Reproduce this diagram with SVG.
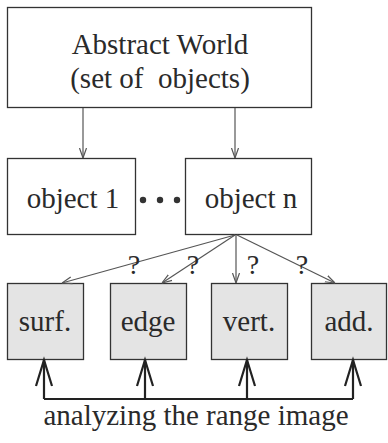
<svg xmlns="http://www.w3.org/2000/svg" width="388" height="443" viewBox="0 0 388 443">
<style>
.box{fill:#fff;stroke:#333;stroke-width:1.3}
.gbox{fill:#e4e4e4;stroke:#333;stroke-width:1.3}
.t{font-size:29px}
.q{font-size:28px}
.thin{stroke:#555;stroke-width:1.2;fill:none}
.bus{stroke:#222;stroke-width:2.2;fill:none}
</style>
<defs>
<marker id="ah" viewBox="0 0 10 10" refX="10" refY="5" markerWidth="10" markerHeight="10" markerUnits="userSpaceOnUse" orient="auto">
<path d="M0,1.5 L10,5 L0,8.5" fill="none" stroke="#555" stroke-width="1.2"/>
</marker>
</defs>
<g font-family="Liberation Serif, DejaVu Serif, serif" fill="#2a2a2a" text-anchor="middle">
<g id="world"><rect class="box" x="7.5" y="7.5" width="304" height="100"/>
<text class="t" x="160" y="54">Abstract World</text>
<text class="t" x="160" y="88" xml:space="preserve">(set of  objects)</text></g>
<g id="obj1"><rect class="box" x="7.5" y="158.5" width="128" height="76"/>
<text class="t" x="73" y="208">object 1</text></g>
<g id="objn"><rect class="box" x="185.5" y="158.5" width="126" height="76"/>
<text class="t" x="251" y="208">object n</text></g>
<g id="dots" fill="#333"><circle cx="143" cy="200" r="3.2"/><circle cx="160" cy="200" r="3.2"/><circle cx="177" cy="200" r="3.2"/></g>
<g id="surf"><rect class="gbox" x="7.5" y="283.5" width="76" height="76"/><text class="t" x="45" y="331">surf.</text></g>
<g id="edge"><rect class="gbox" x="110.5" y="283.5" width="76" height="76"/><text class="t" x="148" y="331">edge</text></g>
<g id="vert"><rect class="gbox" x="211.5" y="283.5" width="76" height="76"/><text class="t" x="249" y="331">vert.</text></g>
<g id="add"><rect class="gbox" x="311.5" y="283.5" width="75" height="76"/><text class="t" x="349" y="331">add.</text></g>
<g id="connectors">
<line class="thin" x1="83" y1="108" x2="83" y2="158" marker-end="url(#ah)"/>
<line class="thin" x1="235" y1="108" x2="235" y2="158" marker-end="url(#ah)"/>
<line class="thin" x1="235" y1="235" x2="62" y2="283" marker-end="url(#ah)"/>
<line class="thin" x1="235" y1="235" x2="162" y2="283" marker-end="url(#ah)"/>
<line class="thin" x1="236" y1="235" x2="236" y2="283" marker-end="url(#ah)"/>
<line class="thin" x1="237" y1="235" x2="335" y2="283" marker-end="url(#ah)"/>
<path class="bus" d="M44,399 H353 M44,399 V360 M145,399 V360 M247,399 V360 M353,399 V360"/>
<path class="bus" d="M36,386 L44,360 L52,386 M137,386 L145,360 L153,386 M239,386 L247,360 L255,386 M345,386 L353,360 L361,386" stroke-width="1.8"/>
</g>
<g id="labels">
<text class="q" x="134" y="274">?</text>
<text class="q" x="193" y="274">?</text>
<text class="q" x="253" y="274">?</text>
<text class="q" x="302" y="274">?</text>
<text class="t" x="196" y="425">analyzing the range image</text>
</g>
</g>
</svg>
